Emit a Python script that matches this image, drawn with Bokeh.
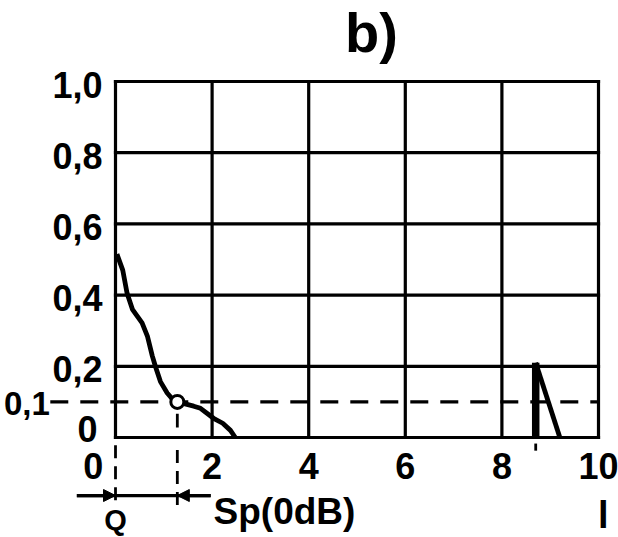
from bokeh.plotting import figure
from bokeh.models import Range1d, Arrow, NormalHead
from bokeh.core.properties import value
from bokeh.embed import file_html
from bokeh.resources import INLINE

# ---- data ----
title_text = "b)"
x_ticks = [0, 2, 4, 6, 8, 10]
x_tick_labels = ["0", "2", "4", "6", "8", "10"]
y_ticks = [0.0, 0.2, 0.4, 0.6, 0.8, 1.0]
y_tick_labels = ["0", "0,2", "0,4", "0,6", "0,8", "1,0"]
threshold = 0.1
threshold_label = "0,1"
curve1_x = [0.03, 0.15, 0.24, 0.35, 0.55, 0.66, 0.76, 0.83, 0.93, 1.07, 1.18, 1.28,
            1.62, 1.76, 2.03, 2.22, 2.38, 2.48]
curve1_y = [0.515, 0.47, 0.405, 0.36, 0.322, 0.285, 0.23, 0.198, 0.157, 0.125, 0.108, 0.10,
            0.088, 0.082, 0.054, 0.04, 0.02, 0.0]
curve2_x = [8.7, 8.7, 9.2]
curve2_y = [0.0, 0.21, 0.0]
crossing_x = 1.28      # where curve 1 crosses the 0,1 level
spike_x = 8.7
sp_label = "Sp(0dB)"
q_label = "Q"
x_unit_label = "l"

FONT = value("Liberation Sans")
W, H = 618, 537
PX_X, PX_Y = 48.3, 356.0
X0 = -115 / PX_X
Y1 = 1 + 81 / PX_Y

p = figure(width=W, height=H, x_range=Range1d(X0, X0 + W / PX_X),
           y_range=Range1d(Y1 - H / PX_Y, Y1), output_backend="svg",
           toolbar_location=None, x_axis_location=None, y_axis_location=None,
           min_border=0, min_border_left=0, min_border_right=0,
           min_border_top=0, min_border_bottom=0)
p.grid.visible = False
p.outline_line_color = None
p.background_fill_color = "white"
p.border_fill_color = "white"

ymin, ymax = y_ticks[0], y_ticks[-1]
xmin, xmax = x_ticks[0], x_ticks[-1]
LW = 3.2

# grid + frame
p.segment(x0=x_ticks, y0=ymin, x1=x_ticks, y1=ymax, line_color="black",
          line_width=LW, line_cap="square")
p.segment(x0=[xmin] * len(y_ticks), y0=y_ticks, x1=[xmax] * len(y_ticks), y1=y_ticks,
          line_color="black", line_width=LW, line_cap="square")

# threshold dashed line
p.line([-1.35, xmax], [threshold, threshold], line_color="black", line_width=LW,
       line_dash="18 12")

# marker at the crossing point and dashed markers below the axis
p.segment(x0=[crossing_x], y0=[0.028], x1=[crossing_x], y1=[0.067],
          line_color="black", line_width=2.8)
p.segment(x0=[xmin, crossing_x], y0=[-0.022, -0.035], x1=[xmin, crossing_x], y1=[-0.19, -0.19],
          line_color="black", line_width=2.8, line_dash="13 8")
p.segment(x0=[spike_x], y0=[-0.017], x1=[spike_x], y1=[-0.037], line_color="black",
          line_width=2.8)

# dimension arrows (Q)
ya = -0.163
p.segment(x0=[-0.8], y0=[ya], x1=[1.97], y1=[ya], line_color="black", line_width=LW)
p.add_layout(Arrow(end=NormalHead(size=12, fill_color="black", line_color="black"),
                   x_start=-0.8, y_start=ya, x_end=xmin, y_end=ya,
                   line_color="black", line_width=LW))
p.add_layout(Arrow(end=NormalHead(size=12, fill_color="black", line_color="black"),
                   x_start=1.97, y_start=ya, x_end=crossing_x, y_end=ya,
                   line_color="black", line_width=LW))

# curves
p.line(curve1_x, curve1_y, line_color="black", line_width=4.8, line_join="round")
p.line(curve2_x[1:], curve2_y[1:], line_color="black", line_width=4.8)
p.line(curve2_x[:2], curve2_y[:2], line_color="black", line_width=7.5)
p.scatter([crossing_x], [threshold], marker="circle", size=13, fill_color="white",
          line_color="black", line_width=3)

# y tick labels
p.text(x=[-0.27] * (len(y_ticks) - 1), y=y_ticks[1:], text=y_tick_labels[1:],
       text_font=FONT, text_font_style="bold", text_font_size="36px",
       text_align="right", text_baseline="middle", y_offset=3, text_color="black")
p.text(x=[-0.37], y=[y_ticks[0]], text=[y_tick_labels[0]], text_font=FONT,
       text_font_style="bold", text_font_size="36px", text_align="right",
       text_baseline="middle", y_offset=-9, text_color="black")
p.text(x=[-1.36], y=[threshold], text=[threshold_label], text_font=FONT,
       text_font_style="bold", text_font_size="33px", text_align="right",
       text_baseline="middle", y_offset=2, text_color="black")

# x tick labels
x_label_pos = [t for t in x_ticks]
x_label_pos[0] = x_ticks[0] - 0.46
p.text(x=x_label_pos, y=[ymin - 0.0787] * len(x_ticks), text=x_tick_labels,
       text_font=FONT, text_font_style="bold", text_font_size="36px",
       text_align="center", text_baseline="middle", text_color="black")

# other labels
p.text(x=[2.03], y=[-0.208], text=[sp_label], text_font=FONT, text_font_style="bold",
       text_font_size="37px", text_align="left", text_baseline="middle",
       text_color="black")
p.text(x=[xmin], y=[-0.188], text=[q_label], text_font=FONT, text_font_style="bold",
       text_font_size="29px", text_align="center", text_baseline="top", text_color="black")
p.text(x=[10.1], y=[-0.219], text=[x_unit_label], text_font=FONT, text_font_style="bold",
       text_font_size="38px", text_align="center", text_baseline="middle",
       text_color="black")
p.text(x=[5.3], y=[1.1376], text=[title_text], text_font=FONT, text_font_style="bold",
       text_font_size="56px", text_align="center", text_baseline="middle",
       text_color="black")

open("out.html", "w").write(file_html(p, INLINE))
